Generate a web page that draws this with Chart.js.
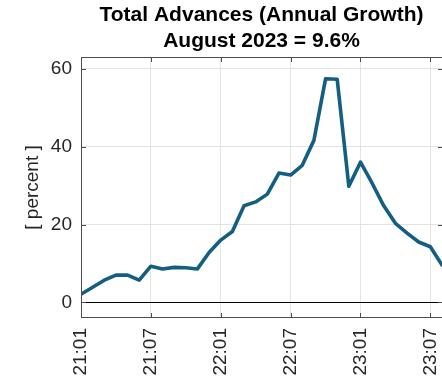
<!DOCTYPE html>
<html>
<head>
<meta charset="utf-8">
<script src="https://cdn.jsdelivr.net/npm/chart.js@4.4.0/dist/chart.umd.min.js"></script>
<style>
  html, body { margin: 0; padding: 0; background: #ffffff; }
  #wrap { width: 442px; height: 380px; position: relative; }
</style>
</head>
<body>
<div id="wrap"><canvas id="c" width="442" height="380"></canvas></div>
<script>
// ---- data ----
const months = ['21:01','21:02','21:03','21:04','21:05','21:06','21:07','21:08','21:09','21:10','21:11','21:12',
                '22:01','22:02','22:03','22:04','22:05','22:06','22:07','22:08','22:09','22:10','22:11','22:12',
                '23:01','23:02','23:03','23:04','23:05','23:06','23:07','23:08'];
const growth = [2.1, 3.9, 5.7, 7.0, 7.0, 5.7, 9.3, 8.6, 9.0, 8.9, 8.6, 12.8,
                16.0, 18.2, 24.8, 25.8, 27.8, 33.2, 32.7, 35.2, 41.6, 57.4, 57.3, 29.8,
                36.0, 30.6, 24.8, 20.3, 17.8, 15.5, 14.3, 9.6];
const xTickLabels = ['21:01','21:07','22:01','22:07','23:01','23:07'];
const yTickValues = [0, 20, 40, 60];
const titleLines = ['Total Advances (Annual Growth)', 'August 2023 = 9.6%'];
const yTitle = '[ percent ]';

const FONT = "'Liberation Sans', Arial, Helvetica, sans-serif";
const BOX = '#4d4d4d';

const boxPlugin = {
  id: 'boxPlugin',
  afterDatasetsDraw(chart) {
    const {ctx, chartArea: a, scales} = chart;
    ctx.save();
    ctx.strokeStyle = BOX;
    ctx.lineWidth = 1;
    ctx.beginPath();
    // left, top, bottom edges (right edge falls just outside the canvas)
    ctx.moveTo(a.right + 2, a.top + 0.5); ctx.lineTo(a.left + 0.5, a.top + 0.5);
    ctx.lineTo(a.left + 0.5, a.bottom - 0.5); ctx.lineTo(a.right + 2, a.bottom - 0.5);
    ctx.stroke();
    const tl = 5;
    ctx.beginPath();
    scales.x.ticks.forEach(t => {
      const px = Math.round(scales.x.getPixelForValue(t.value)) + 0.5;
      ctx.moveTo(px, a.bottom); ctx.lineTo(px, a.bottom - tl);
      ctx.moveTo(px, a.top); ctx.lineTo(px, a.top + tl);
    });
    scales.y.ticks.forEach(t => {
      const py = Math.round(scales.y.getPixelForValue(t.value)) + 0.5;
      ctx.moveTo(a.left, py); ctx.lineTo(a.left + tl, py);
      ctx.moveTo(a.right, py); ctx.lineTo(a.right - tl + 1, py);
    });
    ctx.stroke();
    ctx.restore();
  }
};

new Chart(document.getElementById('c'), {
  type: 'line',
  data: {
    datasets: [{
      data: growth.map((v, i) => ({x: i, y: v})),
      borderColor: '#145e82',
      borderWidth: 3.6,
      pointRadius: 0,
      tension: 0,
      fill: false,
      borderJoinStyle: 'round',
      borderCapStyle: 'round'
    }]
  },
  options: {
    responsive: false,
    animation: false,
    devicePixelRatio: 1,
    layout: { padding: 0 },
    plugins: {
      legend: { display: false },
      tooltip: { enabled: false },
      title: {
        display: true,
        text: titleLines,
        fullSize: false,
        color: '#000000',
        font: { family: FONT, size: 21, weight: 'bold', lineHeight: 1.2 },
        padding: { top: 3, bottom: 3.6 }
      }
    },
    scales: {
      x: {
        type: 'linear',
        min: 0,
        max: months.length - 1,
        afterBuildTicks(scale) {
          scale.ticks = xTickLabels.map(l => ({ value: months.indexOf(l) }));
        },
        afterFit(scale) {
          scale.height = 62;
          scale.paddingLeft = 0;
          scale.paddingRight = 0;
        },
        ticks: {
          autoSkip: false,
          maxRotation: 90,
          minRotation: 90,
          padding: 10,
          color: '#262626',
          font: { family: FONT, size: 19 },
          callback: (v) => months[v]
        },
        grid: {
          color: '#e3e3e3',
          lineWidth: 1,
          drawTicks: false
        },
        border: { display: false }
      },
      y: {
        type: 'linear',
        min: -4,
        max: 63,
        afterBuildTicks(scale) {
          scale.ticks = yTickValues.map(v => ({ value: v }));
        },
        afterFit(scale) {
          scale.width = 81;
          scale.paddingTop = 0;
          scale.paddingBottom = 0;
        },
        ticks: {
          padding: 9,
          color: '#262626',
          font: { family: FONT, size: 19 },
          callback: (v) => String(v)
        },
        grid: {
          color: (c) => c.tick && c.tick.value === 0 ? '#000000' : '#e3e3e3',
          lineWidth: 1,
          drawTicks: false
        },
        border: { display: false },
        title: {
          display: true,
          text: yTitle,
          color: '#262626',
          font: { family: FONT, size: 19, lineHeight: 1.2 },
          padding: { top: 21, bottom: 0 }
        }
      }
    }
  },
  plugins: [boxPlugin]
});
</script>
</body>
</html>
